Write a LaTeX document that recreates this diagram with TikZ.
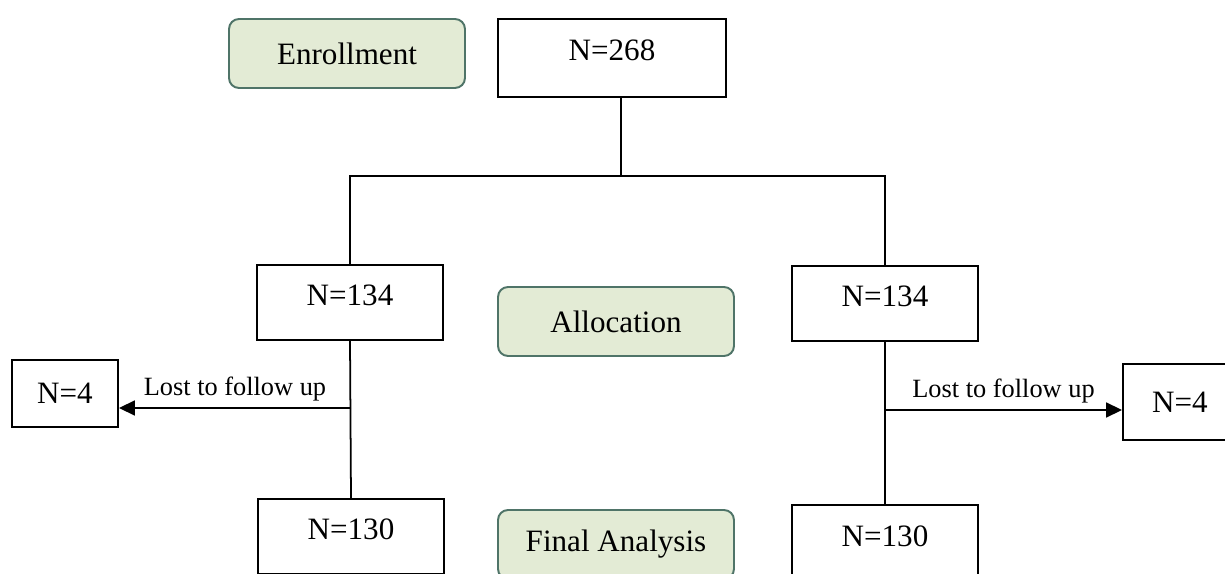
\documentclass[tikz,border=0pt]{standalone}
\usepackage{fontspec}
\setmainfont{Liberation Serif}
\usetikzlibrary{arrows.meta}

\definecolor{phasefill}{HTML}{E3EBD5}
\definecolor{phaseedge}{HTML}{4F7468}

\tikzset{
  phasebox/.style={draw=phaseedge, fill=phasefill, line width=1.1pt, rounded corners=0.2cm,
    minimum width=4.72cm, minimum height=1.38cm, inner sep=0pt, font=\fontsize{17.7}{21}\selectfont},
  countbox/.style={draw, line width=1.1pt, minimum width=3.72cm, inner sep=0pt,
    text height=0.82cm, text depth=0.68cm, font=\fontsize{17.7}{21}\selectfont},
  smallbox/.style={draw, line width=1.1pt, inner sep=0pt, font=\fontsize{17.7}{21}\selectfont},
  link/.style={line width=1pt},
  lost/.style={line width=1pt, -{Triangle[length=0.32cm, width=0.3cm]}},
  lostlabel/.style={font=\fontsize{15}{18}\selectfont, inner sep=0.12cm}
}

\begin{document}
\begin{tikzpicture}[x=0.02cm, y=-0.02cm]

\useasboundingbox (0,0) rectangle (1225,574);
\clip (0,0) rectangle (1225,574);

% Phase labels
\node[phasebox] (enroll) at (347,53.5) {Enrollment};
\node[phasebox] (alloc) at (616,321.5) {Allocation};
\node[phasebox] (final) at (616,544.5) {Final Analysis};

% Counts
\node[countbox, minimum width=4.56cm, text height=0.84cm, text depth=0.72cm] (n268) at (612,58) {N=268};
\foreach \name/\x/\y/\num in {left134/350/302.5/134, right134/885/303.5/134,
                              left130/351/536.5/130, right130/885/542.5/130} {
    \node[countbox] (\name) at (\x,\y) {N=\num};
}
\node[smallbox, minimum width=2.12cm, minimum height=1.34cm] (left4) at (65,393.5) {N=4};
\node[smallbox, minimum width=2.28cm, minimum height=1.52cm] (right4) at (1180,402) {N=4};

% Split into two arms
\coordinate (split) at (621,176);
\draw[link] (n268.south -| split) -- (split);
\draw[link] (left134.north) |- (split) -| (right134.north);

% Follow up
\draw[link] (left134.south) -- (left130.north);
\draw[link] (right134.south) -- (right130.north);
\coordinate (lostL) at (351,408);
\coordinate (lostR) at (885,410);
\draw[lost] (lostL) -- (lostL -| left4.east) node[lostlabel, midway, above] {Lost to follow up};
\draw[lost] (lostR) -- (lostR -| right4.west) node[lostlabel, midway, above] {Lost to follow up};

\end{tikzpicture}
\end{document}
